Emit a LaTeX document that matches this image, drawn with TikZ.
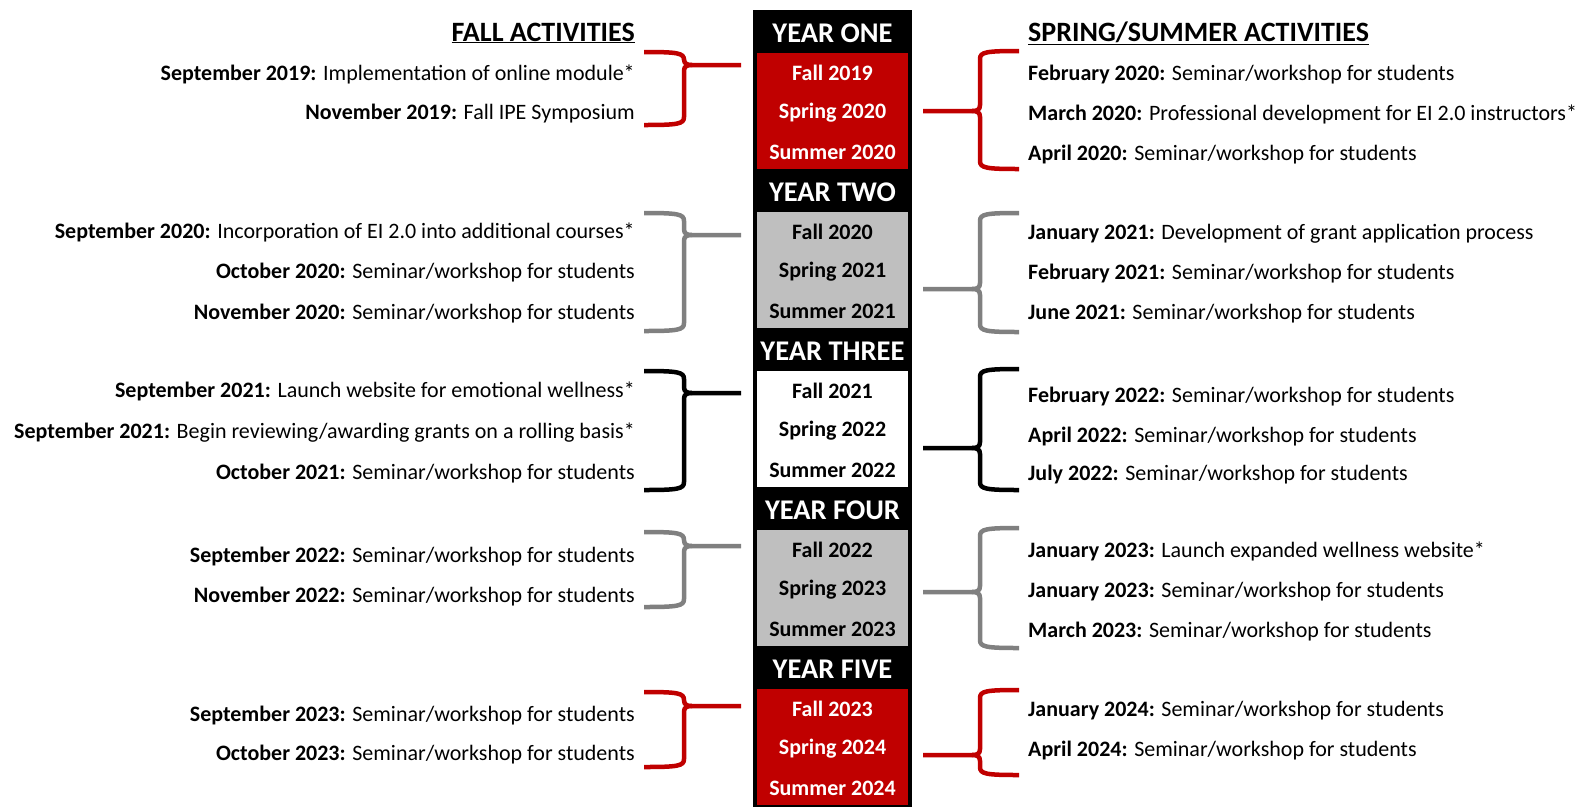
\documentclass[tikz,border=0pt]{standalone}
\usepackage{fontspec}
\setmainfont{Carlito}
\usepackage{tikz}

\definecolor{yearred}{HTML}{C00000}
\definecolor{yeargray}{HTML}{BFBFBF}
\definecolor{bracegray}{HTML}{808080}

% one year of the middle column: name, y of the header, header text,
% box fill, term colour, first calendar year
\newcommand{\yearblock}[6]{%
  \node[yearhead] (#1head) at (832.5,#2) {#3};
  \node[termbox, fill=#4, anchor=north] (#1box) at (832.5,#2+20) {};
  \node[term, text=#5] (#1fall) at (832.5,#2+40) {Fall #6};
  \node[term, text=#5] (#1spring) at (832.5,#2+79.5) {Spring \the\numexpr#6+1\relax};
  \node[term, text=#5] (#1summer) at (832.5,#2+119) {Summer \the\numexpr#6+1\relax};
}

% braces: colour, top, point, bottom
\newcommand{\fallbrace}[4]{%
  \draw[brace, #1] (644,#2) .. controls (678,#2) and (684,#2+1) .. (684,#2+8)
    -- (684,#3-6) .. controls (684,#3-1) and (687,#3) .. (692,#3) -- (741,#3);
  \draw[brace, #1] (692,#3) .. controls (687,#3) and (684,#3+1) .. (684,#3+6)
    -- (684,#4-8) .. controls (684,#4-1) and (678,#4) .. (644,#4);
}
\newcommand{\springbrace}[4]{%
  \draw[brace, #1] (1019,#2) .. controls (986,#2) and (980,#2+1) .. (980,#2+8)
    -- (980,#3-6) .. controls (980,#3-1) and (977,#3) .. (972,#3) -- (923,#3);
  \draw[brace, #1] (972,#3) .. controls (977,#3) and (980,#3+1) .. (980,#3+6)
    -- (980,#4-8) .. controls (980,#4-1) and (986,#4) .. (1019,#4);
}

\begin{document}
\begin{tikzpicture}[x=1pt, y=-1pt,
    yearhead/.style={text=white, inner sep=0pt, font=\fontsize{28.5}{31}\selectfont\bfseries},
    termbox/.style={minimum width=151pt, minimum height=116pt, inner sep=0pt},
    term/.style={inner sep=0pt, font=\fontsize{22}{24}\selectfont\bfseries},
    fallitem/.style={anchor=east, inner sep=0pt, text height=18pt, text depth=4pt,
      font=\fontsize{22}{24}\selectfont},
    springitem/.style={fallitem, anchor=west},
    title/.style={inner sep=0pt, font=\fontsize{28}{30}\selectfont\bfseries},
    brace/.style={line width=4.5pt}]
  \useasboundingbox (0,0) rectangle (1585,807);

  % middle column
  \node[fill=black, minimum width=159pt, minimum height=797pt, inner sep=0pt,
    anchor=north] (column) at (832.5,10) {};
  \yearblock{one}{33}{YEAR ONE}{yearred}{white}{2019}
  \yearblock{two}{192}{YEAR TWO}{yeargray}{black}{2020}
  \yearblock{three}{351}{YEAR THREE}{white}{black}{2021}
  \yearblock{four}{510}{YEAR FOUR}{yeargray}{black}{2022}
  \yearblock{five}{669}{YEAR FIVE}{yearred}{white}{2023}

  % column titles
  \node[title, anchor=east] (falltitle) at (635,33) {\underline{FALL ACTIVITIES}};
  \node[title, anchor=west] (springtitle) at (1028,33) {\underline{SPRING/SUMMER ACTIVITIES}};

  % fall side
  \node[fallitem] (fall1a) at (635,73) {\textbf{September 2019:} Implementation of online module*};
  \node[fallitem] (fall1b) at (635,112) {\textbf{November 2019:} Fall IPE Symposium};
  \node[fallitem] (fall2a) at (635,231) {\textbf{September 2020:} Incorporation of EI 2.0 into additional courses*};
  \node[fallitem] (fall2b) at (635,271) {\textbf{October 2020:} Seminar/workshop for students};
  \node[fallitem] (fall2c) at (635,312) {\textbf{November 2020:} Seminar/workshop for students};
  \node[fallitem] (fall3a) at (635,390) {\textbf{September 2021:} Launch website for emotional wellness*};
  \node[fallitem] (fall3b) at (635,431) {\textbf{September 2021:} Begin reviewing/awarding grants on a rolling basis*};
  \node[fallitem] (fall3c) at (635,472) {\textbf{October 2021:} Seminar/workshop for students};
  \node[fallitem] (fall4a) at (635,555) {\textbf{September 2022:} Seminar/workshop for students};
  \node[fallitem] (fall4b) at (635,595) {\textbf{November 2022:} Seminar/workshop for students};
  \node[fallitem] (fall5a) at (635,714) {\textbf{September 2023:} Seminar/workshop for students};
  \node[fallitem] (fall5b) at (635,753) {\textbf{October 2023:} Seminar/workshop for students};

  % spring/summer side
  \node[springitem] (spring1a) at (1028,73) {\textbf{February 2020:} Seminar/workshop for students};
  \node[springitem] (spring1b) at (1028,113) {\textbf{March 2020:} Professional development for EI 2.0 instructors*};
  \node[springitem] (spring1c) at (1028,153) {\textbf{April 2020:} Seminar/workshop for students};
  \node[springitem] (spring2a) at (1028,232) {\textbf{January 2021:} Development of grant application process};
  \node[springitem] (spring2b) at (1028,272) {\textbf{February 2021:} Seminar/workshop for students};
  \node[springitem] (spring2c) at (1028,312) {\textbf{June 2021:} Seminar/workshop for students};
  \node[springitem] (spring3a) at (1028,395) {\textbf{February 2022:} Seminar/workshop for students};
  \node[springitem] (spring3b) at (1028,435) {\textbf{April 2022:} Seminar/workshop for students};
  \node[springitem] (spring3c) at (1028,473) {\textbf{July 2022:} Seminar/workshop for students};
  \node[springitem] (spring4a) at (1028,550) {\textbf{January 2023:} Launch expanded wellness website*};
  \node[springitem] (spring4b) at (1028,590) {\textbf{January 2023:} Seminar/workshop for students};
  \node[springitem] (spring4c) at (1028,630) {\textbf{March 2023:} Seminar/workshop for students};
  \node[springitem] (spring5a) at (1028,709) {\textbf{January 2024:} Seminar/workshop for students};
  \node[springitem] (spring5b) at (1028,749) {\textbf{April 2024:} Seminar/workshop for students};

  % braces
  \fallbrace{yearred}{52}{65}{125}
  \fallbrace{bracegray}{213}{235}{331}
  \fallbrace{black}{371}{393}{490}
  \fallbrace{bracegray}{532}{546}{607}
  \fallbrace{yearred}{692}{706}{767}
  \springbrace{yearred}{51}{111}{169}
  \springbrace{bracegray}{213}{289}{332}
  \springbrace{black}{369}{448}{490}
  \springbrace{bracegray}{528}{592}{648}
  \springbrace{yearred}{690}{755}{775}
\end{tikzpicture}
\end{document}
